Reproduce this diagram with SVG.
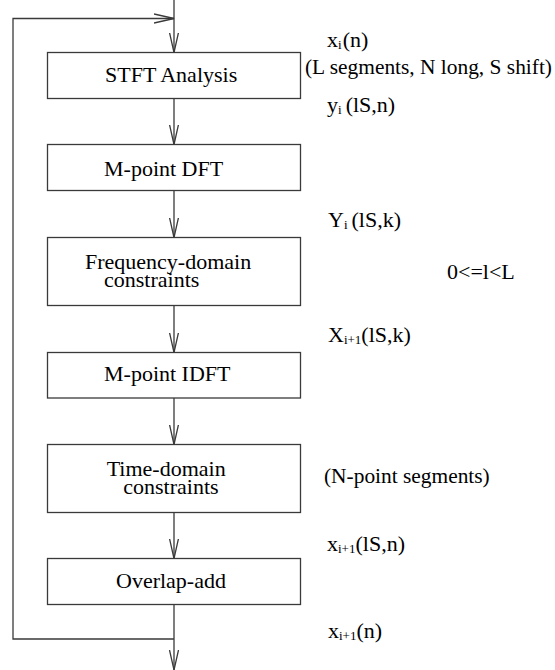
<svg xmlns="http://www.w3.org/2000/svg" width="555" height="670" viewBox="0 0 555 670">
<style>
  .box { fill: #ffffff; stroke: #3a3a3a; stroke-width: 1.3; }
  .line { fill: none; stroke: #3a3a3a; stroke-width: 1.3; }
  .t { font-family: "Liberation Serif", "DejaVu Serif", "Noto Serif", "Times New Roman", Times, serif; fill: #000000; }
  .lbl { font-size: 22px; }
  .ann { font-size: 22px; }
  .note { font-size: 21.4px; }
  .sub { font-size: 13px; }
</style>
<defs>
  <marker id="arr" viewBox="0 0 22 12" markerWidth="22" markerHeight="12" refX="20" refY="6" orient="auto" markerUnits="userSpaceOnUse">
    <path d="M0,1.5 L20,6 L0,10.5" fill="none" stroke="#3a3a3a" stroke-width="1.3"/>
  </marker>
</defs>
<rect width="555" height="670" fill="#ffffff"/>
<g id="connectors">
  <path class="line" d="M174,0 V52.5" marker-end="url(#arr)"/>
  <path class="line" d="M174,639 H13 V18.5 H174" marker-end="url(#arr)"/>
  <path class="line" d="M174,98.5 V144.5" marker-end="url(#arr)"/>
  <path class="line" d="M174,190.5 V237.5" marker-end="url(#arr)"/>
  <path class="line" d="M174,305.5 V352.5" marker-end="url(#arr)"/>
  <path class="line" d="M174,398 V444.5" marker-end="url(#arr)"/>
  <path class="line" d="M174,512.5 V558.5" marker-end="url(#arr)"/>
  <path class="line" d="M174,604.5 V670" marker-end="url(#arr)"/>
</g>
<g id="stft">
  <rect class="box" x="47.5" y="52.5" width="253" height="46"/>
  <text class="t lbl" x="105" y="82" font-family="Liberation Serif, serif">STFT Analysis</text>
</g>
<g id="dft">
  <rect class="box" x="47.5" y="144.5" width="253" height="46"/>
  <text class="t lbl" x="104" y="176" font-family="Liberation Serif, serif">M-point DFT</text>
</g>
<g id="freq">
  <rect class="box" x="47.5" y="237.5" width="253" height="68"/>
  <text class="t lbl" x="85" y="269" font-family="Liberation Serif, serif">Frequency-domain</text>
  <text class="t lbl" x="104" y="287" font-family="Liberation Serif, serif">constraints</text>
</g>
<g id="idft">
  <rect class="box" x="47.5" y="352.5" width="253" height="45.5"/>
  <text class="t lbl" x="104" y="381" font-family="Liberation Serif, serif">M-point IDFT</text>
</g>
<g id="time">
  <rect class="box" x="47.5" y="444.5" width="253" height="68"/>
  <text class="t lbl" x="106.7" y="476" font-family="Liberation Serif, serif">Time-domain</text>
  <text class="t lbl" x="123.3" y="494" font-family="Liberation Serif, serif">constraints</text>
</g>
<g id="ola">
  <rect class="box" x="47.5" y="558.5" width="253" height="46"/>
  <text class="t lbl" x="116" y="588" font-family="Liberation Serif, serif">Overlap-add</text>
</g>
<g id="labels">
  <text class="t ann" x="327" y="47" font-family="Liberation Serif, serif">x<tspan class="sub" dy="2">i</tspan><tspan dy="-2" dx="1">(n)</tspan></text>
  <text class="t note" x="305" y="74" font-family="Liberation Serif, serif">(L segments, N long, S shift)</text>
  <text class="t ann" x="327" y="112" font-family="Liberation Serif, serif">y<tspan class="sub" dy="2">i</tspan><tspan dy="-2" dx="4">(lS,n)</tspan></text>
  <text class="t ann" x="328" y="226.5" font-family="Liberation Serif, serif">Y<tspan class="sub" dy="2">i</tspan><tspan dy="-2" dx="4">(lS,k)</tspan></text>
  <text class="t ann" x="447" y="279" font-family="Liberation Serif, serif">0&lt;=l&lt;L</text>
  <text class="t ann" x="328" y="342" font-family="Liberation Serif, serif">X<tspan class="sub" dy="2">i+1</tspan><tspan dy="-2">(lS,k)</tspan></text>
  <text class="t note" x="324" y="483" font-family="Liberation Serif, serif">(N-point segments)</text>
  <text class="t ann" x="327" y="551" font-family="Liberation Serif, serif">x<tspan class="sub" dy="2">i+1</tspan><tspan dy="-2">(lS,n)</tspan></text>
  <text class="t ann" x="328" y="638" font-family="Liberation Serif, serif">x<tspan class="sub" dy="2">i+1</tspan><tspan dy="-2">(n)</tspan></text>
</g>
</svg>
